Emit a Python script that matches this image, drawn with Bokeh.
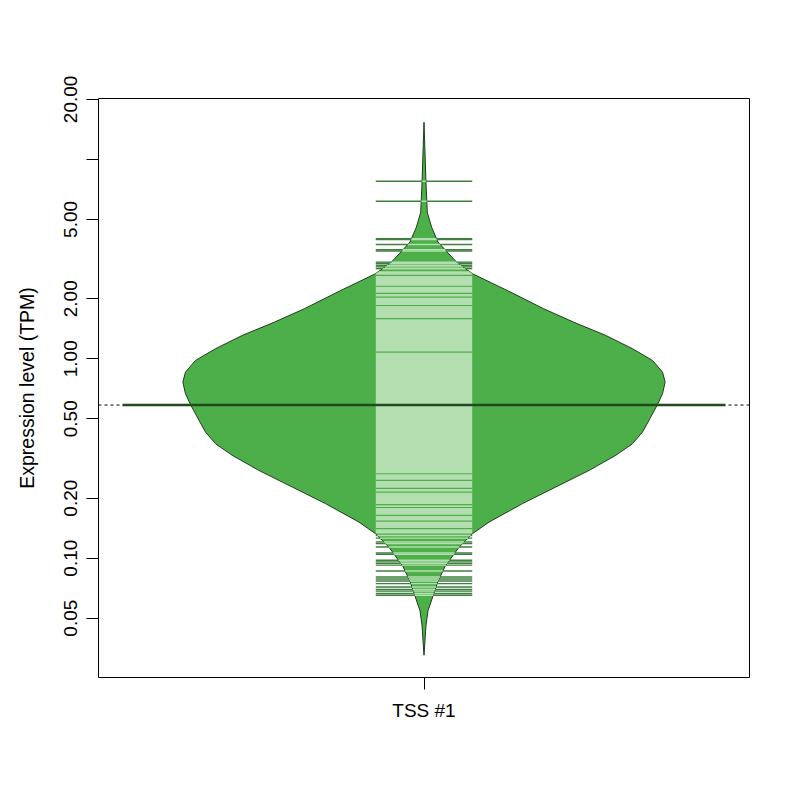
import numpy as np
from bokeh.plotting import figure
from bokeh.models import Range1d, FixedTicker
from bokeh.embed import file_html
from bokeh.resources import INLINE

# one group, placed at x = 1
group_label = "TSS #1"
y_ticks = [0.05, 0.1, 0.2, 0.5, 1, 2, 5, 10, 20]
y_tick_labels = ["0.05", "0.10", "0.20", "0.50", "1.00", "2.00", "5.00", "", "20.00"]

# bean outline: TPM value and half width (x units)
bean_tpm = [15.36, 7.60, 5.42, 4.56, 3.85, 3.49, 3.04, 2.669, 2.201, 1.782,
            1.527, 1.309, 1.123, 0.981, 0.857, 0.764, 0.668, 0.590, 0.510,
            0.429, 0.375, 0.328, 0.2756, 0.2274, 0.1877, 0.1518, 0.1327,
            0.1137, 0.0907, 0.0765, 0.0645, 0.0544, 0.0459, 0.0326]
bean_half = [0.0, 0.0033, 0.0055, 0.0128, 0.0232, 0.0362, 0.0547, 0.0805,
             0.1380, 0.1985, 0.2480, 0.3016, 0.3459, 0.3791, 0.3957, 0.4001,
             0.3957, 0.3874, 0.3762, 0.3625, 0.3459, 0.3182, 0.2741, 0.2186,
             0.1634, 0.1082, 0.0805, 0.0584, 0.0348, 0.0232, 0.0149, 0.0066,
             0.0033, 0.0]

# single beanlines outside the dense middle
beanlines_high = [7.77, 6.17, 4.0, 3.96, 3.74, 3.52, 3.47, 3.05, 3.00, 2.94,
                  2.89, 2.83]
beanlines_low = [0.130, 0.126, 0.1205, 0.1183, 0.1137, 0.1061, 0.1045, 0.0976,
                 0.0958, 0.0941, 0.0923, 0.0862, 0.0804, 0.0786, 0.0768,
                 0.0745, 0.0717, 0.0696, 0.0683, 0.0665, 0.0652]
# the middle is one solid block of beanlines, with a few thin gaps
dense_top = 2.75
dense_bottom = 0.133
dense_gaps = [2.62, 2.31, 2.13, 2.04, 1.85, 1.59, 1.08, 0.265, 0.2456, 0.224,
              0.2146, 0.1857, 0.1795, 0.164, 0.1533, 0.1406]
bean_average = 0.586

FILL = "#4DAF4A"
LIGHT = "#B3DEAF"
DARK = "#3F7F3F"
BORDER = "#1D3D1D"
AVG = "#1F4A1F"
FONT = "Liberation Sans"
ll = 0.08  # half length of the beanlines

p = figure(width=790, height=790, y_axis_type="log", output_backend="svg",
           toolbar_location=None, x_range=Range1d(0.46, 1.54),
           y_range=Range1d(0.0252, 20.2))
p.min_border_left = 98
p.min_border_right = 41
p.min_border_top = 98
p.min_border_bottom = 113
p.grid.visible = False
p.outline_line_color = "black"
p.outline_line_width = 1
p.background_fill_color = "white"
p.border_fill_color = "white"

# overall average, dotted across the plot
p.segment(x0=[0.46], y0=[bean_average], x1=[1.54], y1=[bean_average],
          line_color="black", line_width=1, line_dash="3 3")

# the bean
xs = [1 + h for h in bean_half] + [1 - h for h in bean_half[::-1]]
ys = list(bean_tpm) + list(bean_tpm[::-1])
p.patch(xs, ys, fill_color=FILL, line_color=BORDER, line_width=1)

log_sorted = np.log10(bean_tpm[::-1])
half_sorted = np.array(bean_half[::-1])


def width_at(v):
    return np.interp(np.log10(v), log_sorted, half_sorted)


# dense block of light lines
band_vals = [dense_top] + [t for t in bean_tpm if dense_bottom < t < dense_top] + [dense_bottom]
band_w = [min(width_at(v), ll) for v in band_vals]
p.patch([1 + w for w in band_w] + [1 - w for w in band_w[::-1]],
        band_vals + band_vals[::-1], fill_color=LIGHT, line_color=None)
gw = [min(width_at(v), ll) for v in dense_gaps]
p.segment(x0=[1 - w for w in gw], y0=dense_gaps, x1=[1 + w for w in gw],
          y1=dense_gaps, line_color=FILL, line_width=1.2)

# single beanlines: light inside the bean, dark outside
singles = beanlines_high + beanlines_low
sw = [min(width_at(v), ll) for v in singles]
p.segment(x0=[1 - w for w in sw], y0=singles, x1=[1 + w for w in sw],
          y1=singles, line_color=LIGHT, line_width=1.4)
out_x0, out_x1, out_y = [], [], []
for v, w in zip(singles, sw):
    if w < ll:
        out_x0 += [1 - ll, 1 + w]
        out_x1 += [1 - w, 1 + ll]
        out_y += [v, v]
p.segment(x0=out_x0, y0=out_y, x1=out_x1, y1=out_y, line_color=DARK,
          line_width=1.4)

# bean average
p.segment(x0=[0.5], y0=[bean_average], x1=[1.5], y1=[bean_average],
          line_color=AVG, line_width=2.5)

# axes
p.yaxis.ticker = FixedTicker(ticks=y_ticks, minor_ticks=[])
p.yaxis.major_label_overrides = {t: l for t, l in zip(y_ticks, y_tick_labels)}
p.yaxis.major_label_orientation = "vertical"
p.yaxis.axis_label = "Expression level (TPM)"
p.xaxis.ticker = FixedTicker(ticks=[1], minor_ticks=[])
p.xaxis.major_label_overrides = {1: group_label}
for ax in (p.xaxis, p.yaxis):
    ax.axis_line_color = None
    ax.major_tick_line_color = "black"
    ax.major_tick_out = 12
    ax.major_tick_in = 0
    ax.minor_tick_out = 0
    ax.minor_tick_in = 0
    ax.major_label_text_font = FONT
    ax.major_label_text_font_size = "19px"
    ax.major_label_text_color = "black"
    ax.axis_label_text_font = FONT
    ax.axis_label_text_font_size = "19.5px"
    ax.axis_label_text_font_style = "normal"
    ax.axis_label_text_color = "black"
p.yaxis.major_label_standoff = 9
p.yaxis.axis_label_standoff = 24
p.xaxis.major_label_standoff = 10

open("out.html", "w").write(file_html(p, INLINE))
